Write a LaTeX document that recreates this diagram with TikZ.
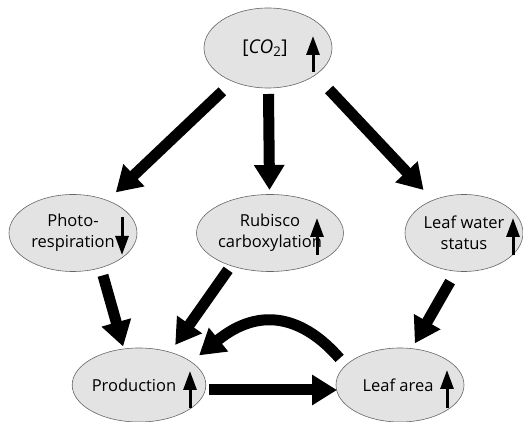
\documentclass[tikz,border=0pt]{standalone}
\usepackage{fontspec}
\setmainfont{Open Sans}
\usetikzlibrary{arrows.meta,shapes.geometric,calc}
\begin{document}
\begin{tikzpicture}[x=1pt,y=-1pt,
  bub/.style={ellipse,draw=black!60,line width=0.6pt,fill=black!11,
    minimum width=128pt,minimum height=77pt,inner sep=0pt,align=center,
    font=\fontsize{16.5}{21}\selectfont},
  big/.style={line width=11pt,-{Triangle[width=29pt,length=25pt]}},
  small/.style={line width=3pt,-{Triangle[width=13pt,length=19pt]}}]
\useasboundingbox (0,0) rectangle (523,422);
% nodes
\node[bub,minimum height=80pt,font=\fontsize{19}{23}\selectfont] (co2) at (268,48) {[\textit{CO}\textsubscript{2}]\hspace*{6pt}};
\node[bub] (photo) at (73,233) {Photo-\\respiration};
\node[bub] (rub) at (270,233) {Rubisco\\carboxylation};
\node[bub,minimum width=118pt] (water) at (464,233) {Leaf water\\status};
\node[bub,minimum height=74pt] (prod) at (139,385) {Production\hspace*{10pt}};
\node[bub,minimum height=74pt] (leaf) at (400,385) {Leaf area\hspace*{4pt}};
% small arrows
\draw[small] ($(co2)+(45,24)$) -- ($(co2)+(45,-12)$);
\draw[small] ($(photo)+(49,-16)$) -- ($(photo)+(49,22)$);
\draw[small] ($(rub)+(47,22)$) -- ($(rub)+(47,-15)$);
\draw[small] ($(water)+(49,22)$) -- ($(water)+(49,-15)$);
\draw[small] ($(prod)+(51,23)$) -- ($(prod)+(51,-14)$);
\draw[small] ($(leaf)+(47,23)$) -- ($(leaf)+(47,-15)$);
% big arrows
\draw[big,shorten <=63pt,shorten >=59pt] (co2.center) -- (photo.center);
\draw[big,shorten <=46pt,shorten >=43pt] (co2.center) -- (rub.center);
\draw[big,shorten <=57pt,shorten >=59pt] ([xshift=22pt]co2.center) -- (water.center);
\draw[big,shorten <=44pt,shorten >=40pt] ([xshift=18pt]photo.center) -- ([xshift=-5pt]prod.center);
\draw[big,shorten <=45pt,shorten >=49pt] ([xshift=-16pt]rub.center) -- ([xshift=8pt]prod.center);
\draw[big,shorten <=56pt,shorten >=48pt] ([xshift=14pt]water.center) -- ([xshift=-9pt]leaf.center);
\draw[big,shorten <=70pt,shorten >=63pt] ([yshift=-5pt]prod.center) -- ([yshift=-5pt]leaf.center);
\draw[big,shorten <=9pt,shorten >=10pt] (leaf.160) .. controls +(-41,-47) and +(70,-57) .. (prod.24);
\end{tikzpicture}
\end{document}
